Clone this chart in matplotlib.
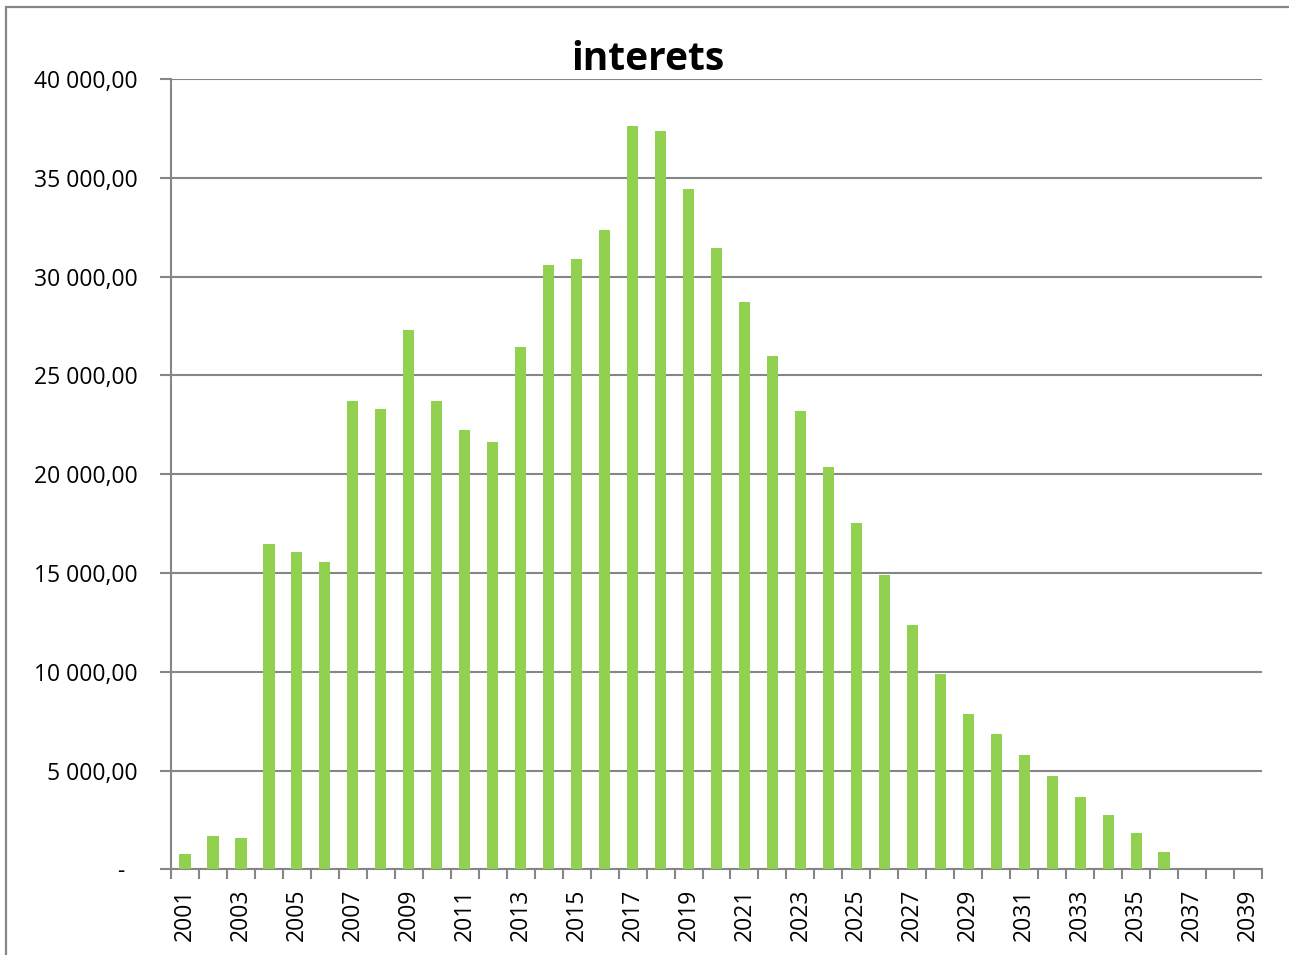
import matplotlib.pyplot as plt
from matplotlib.patches import Rectangle
from matplotlib.ticker import FuncFormatter

# interets par annee
years = list(range(2001, 2040))
interets = [760, 1690, 1590, 16470, 16080, 15560, 23710, 23310, 27300, 23710,
            22240, 21630, 26450, 30580, 30900, 32370, 37640, 37350, 34430, 31460,
            28690, 25990, 23200, 20370, 17540, 14900, 12370, 9900, 7880, 6840,
            5770, 4710, 3660, 2750, 1820, 890, 0, 0, 0]
y_ticks = list(range(0, 40001, 5000))

GRID = '#868686'
plt.rcParams['font.family'] = ['Open Sans', 'DejaVu Sans']

fig = plt.figure(figsize=(12.89, 9.55), dpi=100)
ax = fig.add_axes([171 / 1289, 85.7 / 955, (1262 - 171) / 1289, (869.3 - 79) / 955])

# outer chart frame (cropped on right and bottom)
fig.patches.append(Rectangle((6 / 1289, -0.1), 1.2, (955 - 7) / 955 + 0.1,
                             transform=fig.transFigure, fill=False,
                             edgecolor=GRID, linewidth=1.6, zorder=0))

pos = list(range(len(years)))
ax.bar(pos, interets, width=0.4, color='#92D050', zorder=3)

ax.set_xlim(-0.5, len(years) - 0.5)
ax.set_ylim(0, 40000)
ax.set_yticks(y_ticks)


def fmt(v, _):
    if v == 0:
        return '-  '
    return '{:,.2f}'.format(v).replace(',', ' ').replace('.', ',')


ax.yaxis.set_major_formatter(FuncFormatter(fmt))
ax.yaxis.grid(True, color=GRID, linewidth=1.5, zorder=0)
ax.tick_params(axis='y', length=8, width=1.5, color=GRID, pad=16,
               labelsize=16.5)

# ticks between categories, labels every second year
ax.set_xticks([p - 0.5 for p in pos] + [len(years) - 0.5])
ax.set_xticklabels([])
ax.tick_params(axis='x', which='major', length=7, width=1.5, color=GRID)
ax.set_xticks(pos[::2], minor=True)
ax.set_xticklabels([str(y) for y in years[::2]], minor=True, rotation=90)
ax.tick_params(axis='x', which='minor', length=0, pad=14, labelsize=16.5)

for s in ('top', 'right'):
    ax.spines[s].set_visible(False)
for s in ('left', 'bottom'):
    ax.spines[s].set_color(GRID)
    ax.spines[s].set_linewidth(1.5)

fig.text(648 / 1289, (955 - 59) / 955, 'interets', ha='center', va='center',
         fontsize=28, fontweight='bold')

fig.savefig('out.png', dpi=100)
